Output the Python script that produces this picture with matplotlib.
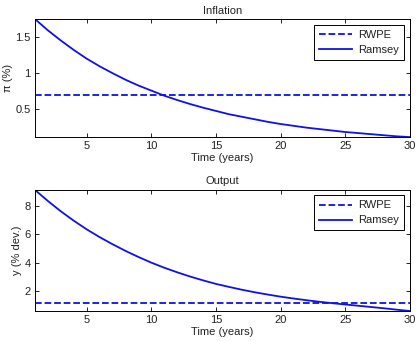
import matplotlib
matplotlib.use("Agg")
import matplotlib.pyplot as plt

# Time axis (years)
years = list(range(1, 31))

# Inflation (%), Ramsey path and RWPE level
infl_ramsey = [1.745, 1.59, 1.45, 1.32, 1.20, 1.095, 1.0, 0.91, 0.83, 0.76,
               0.69, 0.63, 0.575, 0.525, 0.48, 0.435, 0.40, 0.365, 0.33, 0.30,
               0.275, 0.25, 0.23, 0.21, 0.19, 0.175, 0.16, 0.145, 0.13, 0.12]
infl_rwpe = 0.70

# Output (% dev.), Ramsey path and RWPE level
out_ramsey = [9.13, 8.35, 7.62, 6.96, 6.35, 5.8, 5.3, 4.83, 4.4, 4.0,
              3.64, 3.32, 3.02, 2.75, 2.5, 2.29, 2.09, 1.91, 1.75, 1.6,
              1.47, 1.35, 1.24, 1.14, 1.05, 0.96, 0.87, 0.78, 0.68, 0.59]
out_rwpe = 1.17

plt.rcParams['font.family'] = ['Liberation Sans', 'DejaVu Sans']
plt.rcParams['font.size'] = 8
plt.rcParams['text.color'] = '#222222'
plt.rcParams['axes.labelcolor'] = '#222222'
plt.rcParams['xtick.labelcolor'] = '#222222'
plt.rcParams['ytick.labelcolor'] = '#222222'

blue = '#1010e8'

fig = plt.figure(figsize=(4.18, 3.41), dpi=100)
ax1 = fig.add_axes([0.0837, 0.598, 0.897, 0.346])
ax2 = fig.add_axes([0.0837, 0.088, 0.897, 0.355])


def style(ax, title, ylabel, yticks, yticklabels, ylim):
    ax.set_xlim(1, 30)
    ax.set_ylim(*ylim)
    ax.set_xticks([5, 10, 15, 20, 25, 30])
    ax.set_yticks(yticks)
    ax.set_yticklabels(yticklabels)
    ax.tick_params(direction='in', top=True, right=True, length=3, width=0.6, pad=3)
    for s in ax.spines.values():
        s.set_linewidth(0.7)
    ax.set_title(title, fontsize=8, pad=4)
    ax.set_xlabel('Time (years)', labelpad=1)
    ax.set_ylabel(ylabel, labelpad=2)
    leg = ax.legend(loc='upper right', fancybox=False, edgecolor='black',
                    framealpha=1, handlelength=3.0, borderpad=0.45,
                    labelspacing=0.45, borderaxespad=0.5, handletextpad=0.6)
    leg.get_frame().set_linewidth(0.7)


ax1.axhline(infl_rwpe, color=blue, linestyle='--', linewidth=1.3, label='RWPE')
ax1.plot(years, infl_ramsey, color=blue, linewidth=1.3, label='Ramsey')
style(ax1, 'Inflation', 'π (%)', [0.5, 1, 1.5], ['0.5', '1', '1.5'],
      (min(infl_ramsey), max(infl_ramsey)))

ax2.axhline(out_rwpe, color=blue, linestyle='--', linewidth=1.3, label='RWPE')
ax2.plot(years, out_ramsey, color=blue, linewidth=1.3, label='Ramsey')
style(ax2, 'Output', 'y (% dev.)', [2, 4, 6, 8], ['2', '4', '6', '8'],
      (min(out_ramsey), max(out_ramsey)))

fig.savefig('out.png', dpi=100)
